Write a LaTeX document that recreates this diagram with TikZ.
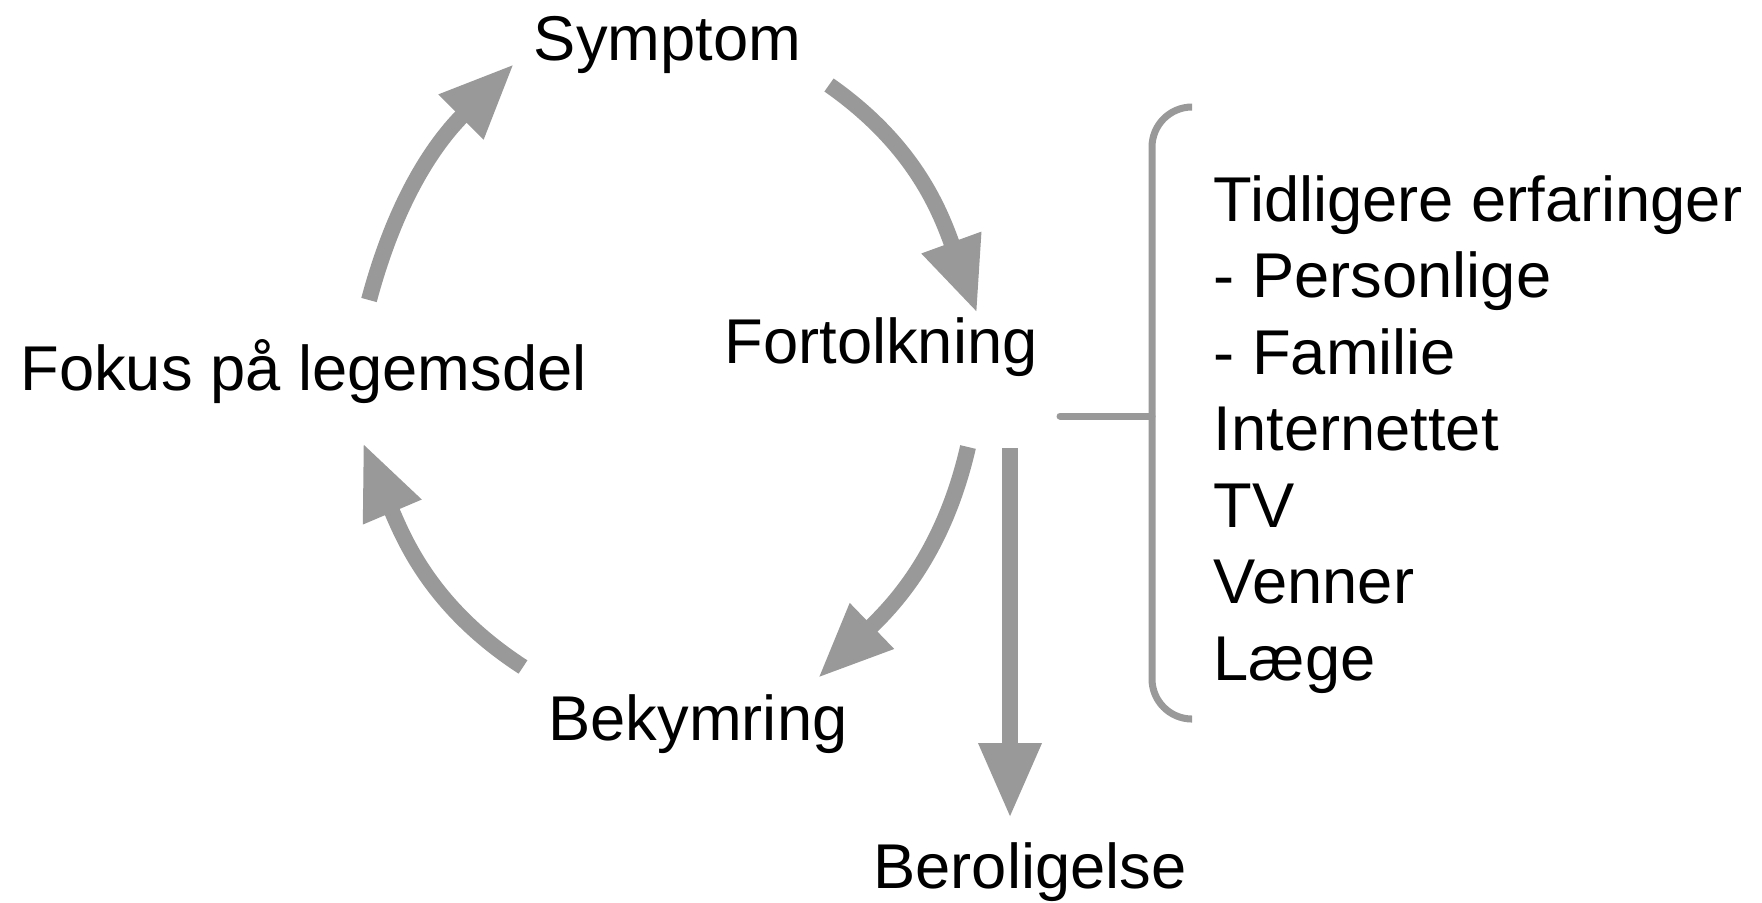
\documentclass[tikz,border=0pt]{standalone}
\usepackage{fontspec}
\setmainfont{Liberation Sans}
\usetikzlibrary{arrows.meta}
\definecolor{arrowgray}{HTML}{999999}
\tikzset{
	cyclearrow/.style={draw=arrowgray, line width=0.16cm, -{Triangle[length=0.75cm, width=0.59cm]}},
	bracketline/.style={draw=arrowgray, line width=0.07cm, line cap=round},
	cycletext/.style={font=\fontsize{18}{22}\selectfont, inner sep=0pt, anchor=base}
}
\begin{document}
\begin{tikzpicture}
			\useasboundingbox (0,0) rectangle (17.62,9.02);
			% 画文字
			\node[cycletext] (symptom) at (6.675,8.42) {Symptom};
			\node[cycletext] (fortolk) at (8.81,5.39) {Fortolkning};
			\node[cycletext] (fokus) at (3.035,5.12) {Fokus på legemsdel};
			\node[cycletext] (bekym) at (6.98,1.62) {Bekymring};
			\node[cycletext] (berolig) at (10.30,0.14) {Beroligelse};
			\foreach \txt [count=\i] in {Tidligere erfaringer, - Personlige, - Familie, Internettet, TV, Venner, Læge} {
				\node[cycletext, anchor=base west] (kilde\i) at (12.13,6.81-0.765*\i+0.765) {\txt};
			}
			% 画箭头端点
			\coordinate (a1) at (3.69,6.02);
			\coordinate (b1) at (5.14,8.38);
			\coordinate (a2) at (8.29,8.17);
			\coordinate (b2) at (9.77,5.89);
			\coordinate (a3) at (9.68,4.55);
			\coordinate (b3) at (8.18,2.24);
			\coordinate (a4) at (10.10,4.54);
			\coordinate (b4) at (10.10,0.84);
			\coordinate (a5) at (5.23,2.35);
			\coordinate (b5) at (3.63,4.59);
			% 画循环箭头
			\draw[cyclearrow] (a1) to[out=75, in=225] (b1);
			\draw[cyclearrow] (a2) to[out=-35, in=110] (b2);
			\draw[cyclearrow] (a3) to[out=257, in=44] (b3);
			\draw[cyclearrow] (a4) -- (b4);
			\draw[cyclearrow] (a5) to[out=147, in=-67] (b5);
			% 画括号
			\coordinate (tick) at (10.60,4.86);
			\draw[bracketline] (tick) -- ++(0.92,0);
			\draw[bracketline, rounded corners=0.4cm] (11.91,7.95) -| (11.52,4.86) |- (11.91,1.83);
		\end{tikzpicture}
\end{document}
